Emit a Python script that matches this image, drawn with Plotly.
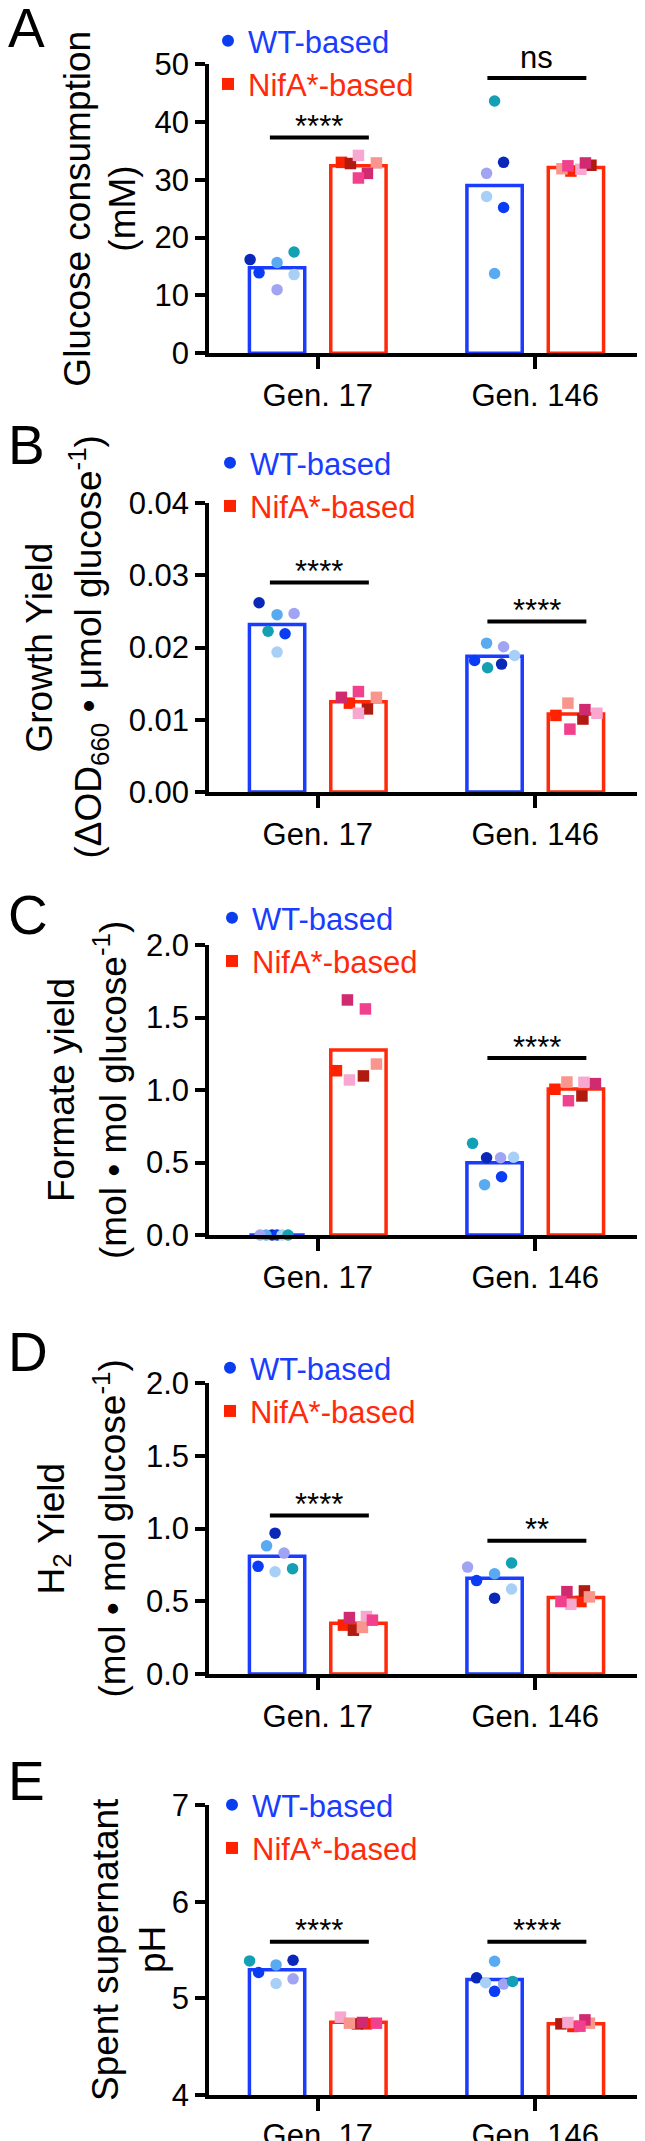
import plotly.graph_objects as go

W, H = 645, 2141

# ---------------- data ----------------
CATS = ["Gen. 17", "Gen. 146"]
SERIES = ["WT-based", "NifA*-based"]

# replicate order: WT = navy, blue, mid-blue, light-blue, lavender, teal
#                  NifA = red, dark red, light pink, salmon, magenta, hot pink
A_WT_BAR = [14.8, 29.0]
A_NIFA_BAR = [32.4, 32.1]
A_WT_G17 = [16.2, 13.9, 15.7, 13.6, 11.0, 17.5]
A_WT_G146 = [33.0, 25.2, 13.8, 27.1, 31.1, 43.6]
A_NIFA_G17 = [33.0, 32.8, 34.2, 32.9, 31.1, 30.3]
A_NIFA_G146 = [31.5, 32.5, 31.8, 31.9, 32.9, 32.4]

B_WT_BAR = [0.0232, 0.0188]
B_NIFA_BAR = [0.0125, 0.0108]
B_WT_G17 = [0.0262, 0.0219, 0.02455, 0.01936, 0.0247, 0.02225]
B_WT_G146 = [0.0177, 0.0182, 0.0206, 0.0189, 0.0201, 0.0172]
B_NIFA_G17 = [0.0123, 0.0115, 0.0109, 0.0131, 0.0131, 0.0139]
B_NIFA_G146 = [0.0106, 0.0101, 0.0109, 0.0123, 0.0114, 0.0087]

C_WT_BAR = [0.0, 0.499]
C_NIFA_BAR = [1.276, 1.007]
C_WT_G17 = [0.0, 0.0, 0.0, 0.0, 0.0, 0.0]
C_WT_G146 = [0.533, 0.402, 0.347, 0.536, 0.533, 0.632]
C_NIFA_G17 = [1.133, 1.097, 1.069, 1.179, 1.621, 1.559]
C_NIFA_G146 = [1.005, 0.959, 1.053, 1.055, 1.044, 0.926]

D_WT_BAR = [0.81, 0.658]
D_NIFA_BAR = [0.349, 0.525]
D_WT_G17 = [0.968, 0.740, 0.881, 0.703, 0.831, 0.724]
D_WT_G146 = [0.521, 0.642, 0.689, 0.584, 0.735, 0.763]
D_NIFA_G17 = [0.336, 0.301, 0.395, 0.320, 0.388, 0.370]
D_NIFA_G146 = [0.498, 0.571, 0.479, 0.530, 0.566, 0.498]

E_WT_BAR = [5.295, 5.195]
E_NIFA_BAR = [4.753, 4.736]
E_WT_G17 = [5.394, 5.267, 5.346, 5.154, 5.202, 5.387]
E_WT_G146 = [5.212, 5.072, 5.384, 5.161, 5.147, 5.175]
E_NIFA_G17 = [4.736, 4.736, 4.805, 4.743, 4.750, 4.743]
E_NIFA_G146 = [4.709, 4.736, 4.750, 4.743, 4.777, 4.712]

# significance labels: (category index, label)
A_SIG = [(0, "****"), (1, "ns")]
B_SIG = [(0, "****"), (1, "****")]
C_SIG = [(1, "****")]
D_SIG = [(0, "****"), (1, "**")]
E_SIG = [(0, "****"), (1, "****")]

# ---------------- styles / layout ----------------
WT_COLORS = ["#0b27b8", "#0a3cf5", "#5aaaf2", "#a8d0f6", "#a0a4f2", "#14a0b4"]
NIFA_COLORS = ["#ff2200", "#b01a10", "#f8a8d0", "#f8968e", "#d02a70", "#f0408e"]
BLUE = "#1a3cff"
RED = "#ff2a0a"
FONT = "Liberation Sans, Arial, Helvetica, sans-serif"

# horizontal jitter of points (pixels from bar centre)
JIT = {
    "A": ([-27, -18, 0, 17, 0, 17], [9, 9, 0, -8, -8, 0],
          [-17, -8, 0, 18, 9, 0], [-5, 15, 5, -14, 9.5, -8]),
    "B": ([-18, 8, 0, 0, 17, -9], [7, -20, -8, 20, 9, -7],
          [-9, 9, 0, 18, -17, 0], [-20, 7, 21, -8, 9, -6]),
    "C": ([-5, 0, -11, 5, -17, 11], [-8, 7, -10, 19, 6, -22],
          [-22, 5, -9, 18, -11, 7], [-21, 6, 8, -9, 19.5, -7.5]),
    "D": ([-2, -19, -10.5, -2, 7, 15.5], [0, -18, 0, 17, -27, 17],
          [-15, -5, 8, 4, -9, 14], [5, 8.5, -5, 13.5, -9, -15]),
    "E": ([16, -18.5, -1, -1, 16, -27.5], [-18, 0, 0, -9, 9, 18],
          [8, -1, -18, -9, 4, 18], [-3, -15, -8, 13.5, 9, 4]),
}

# pixel positions below are in the reference picture's frame
PANELS = [
    dict(key="A", wt_bar=A_WT_BAR, n_bar=A_NIFA_BAR,
         pts=(A_WT_G17, A_WT_G146, A_NIFA_G17, A_NIFA_G146), sig=A_SIG,
         sig_y=[37.3, 47.6], top=64, bot=353.3, rng=[0, 50],
         tickvals=[0, 10, 20, 30, 40, 50], fmt="d",
         title=["Glucose consumption", "(mM)"], tx=[78, 123],
         letter_xy=(26.5, 28), leg_xy=(228, 41)),
    dict(key="B", wt_bar=B_WT_BAR, n_bar=B_NIFA_BAR,
         pts=(B_WT_G17, B_WT_G146, B_NIFA_G17, B_NIFA_G146), sig=B_SIG,
         sig_y=[0.029, 0.0236], top=503, bot=792, rng=[0, 0.04],
         tickvals=[0, 0.01, 0.02, 0.03, 0.04], fmt=".2f",
         title=["Growth Yield",
                "(ΔOD<sub>660</sub> • μmol glucose<sup>-1</sup>)"],
         tx=[39, 88], letter_xy=(26.5, 444.5), leg_xy=(230, 463)),
    dict(key="C", wt_bar=C_WT_BAR, n_bar=C_NIFA_BAR,
         pts=(C_WT_G17, C_WT_G146, C_NIFA_G17, C_NIFA_G146), sig=C_SIG,
         sig_y=[None, 1.22], top=945, bot=1235, rng=[0, 2],
         tickvals=[0, 0.5, 1.0, 1.5, 2.0], fmt=".1f",
         title=["Formate yield", "(mol • mol glucose<sup>-1</sup>)"],
         tx=[61, 110], letter_xy=(28, 915), leg_xy=(232, 918)),
    dict(key="D", wt_bar=D_WT_BAR, n_bar=D_NIFA_BAR,
         pts=(D_WT_G17, D_WT_G146, D_NIFA_G17, D_NIFA_G146), sig=D_SIG,
         sig_y=[1.09, 0.915], top=1383, bot=1674, rng=[0, 2],
         tickvals=[0, 0.5, 1.0, 1.5, 2.0], fmt=".1f",
         title=["H<sub>2</sub> Yield", "(mol • mol glucose<sup>-1</sup>)"],
         tx=[53, 110], letter_xy=(27.5, 1352), leg_xy=(230, 1368)),
    dict(key="E", wt_bar=E_WT_BAR, n_bar=E_NIFA_BAR,
         pts=(E_WT_G17, E_WT_G146, E_NIFA_G17, E_NIFA_G146), sig=E_SIG,
         sig_y=[5.585, 5.585], top=1805, bot=2095, rng=[4, 7],
         tickvals=[4, 5, 6, 7], fmt="d",
         title=["Spent supernatant", "pH"],
         tx=[105, 152], letter_xy=(26, 1781), leg_xy=(232, 1805)),
]

OFF = 8                 # the page's default body margin shifts the figure by 8 px
X_LEFT, X_RIGHT = 209, 644
UNIT = (X_RIGHT - X_LEFT) / 2.0
SIDE = 0.187
SIG_SHIFT = {"ns": 20}
SIG_SHIFT_DEFAULT = 11


def pxx(x):
    return (x - OFF) / W


def pxy(y):
    return 1 - (y - OFF) / H


fig = go.Figure()
layout = dict(
    template="none",
    width=W, height=H, autosize=False,
    margin=dict(l=0, r=0, t=0, b=0, pad=0, autoexpand=False),
    paper_bgcolor="white", plot_bgcolor="white",
    barmode="group", bargap=0.252, bargroupgap=0.32,
    font=dict(family=FONT, size=31, color="black"),
    showlegend=True,
)
annotations = []
shapes = []

for i, p in enumerate(PANELS, start=1):
    xa = "x" if i == 1 else f"x{i}"
    ya = "y" if i == 1 else f"y{i}"
    leg = "legend" if i == 1 else f"legend{i}"

    # bars
    fig.add_trace(go.Bar(x=[0, 1], y=p["wt_bar"], xaxis=xa, yaxis=ya,
                         marker=dict(color="white", line=dict(color=BLUE, width=3.5)),
                         showlegend=False, hoverinfo="skip"))
    fig.add_trace(go.Bar(x=[0, 1], y=p["n_bar"], xaxis=xa, yaxis=ya,
                         marker=dict(color="white", line=dict(color=RED, width=3.5)),
                         showlegend=False, hoverinfo="skip"))

    # replicate points
    jit = JIT[p["key"]]
    groups = [(0, -SIDE, p["pts"][0], jit[0], WT_COLORS, "circle"),
              (1, -SIDE, p["pts"][1], jit[1], WT_COLORS, "circle"),
              (0, SIDE, p["pts"][2], jit[2], NIFA_COLORS, "square"),
              (1, SIDE, p["pts"][3], jit[3], NIFA_COLORS, "square")]
    for ci, side, vals, jj, cols, sym in groups:
        xs = [ci + side + j / UNIT for j in jj]
        fig.add_trace(go.Scatter(x=xs, y=vals, xaxis=xa, yaxis=ya, mode="markers",
                                 marker=dict(color=cols, size=11.5, symbol=sym,
                                             line=dict(width=0)),
                                 cliponaxis=False, showlegend=False, hoverinfo="skip"))

    # legend entries
    fig.add_trace(go.Scatter(x=[None], y=[None], xaxis=xa, yaxis=ya, mode="markers",
                             name=f"<span style='color:{BLUE}'>{SERIES[0]}</span>",
                             marker=dict(color="#0a3cf0", size=12, symbol="circle"),
                             legend=leg))
    fig.add_trace(go.Scatter(x=[None], y=[None], xaxis=xa, yaxis=ya, mode="markers",
                             name=f"<span style='color:{RED}'>{SERIES[1]}</span>",
                             marker=dict(color="#ff2200", size=12, symbol="square"),
                             legend=leg))
    lx, ly = p["leg_xy"]
    layout[leg] = dict(x=pxx(lx - 20), y=pxy(ly - 27), xanchor="left", yanchor="top",
                       bgcolor="rgba(0,0,0,0)", borderwidth=0,
                       font=dict(family=FONT, size=31), itemsizing="trace",
                       tracegroupgap=0)

    # axes
    is_last = (i == len(PANELS))
    layout[f"xaxis{'' if i == 1 else i}"] = dict(
        domain=[pxx(X_LEFT), pxx(X_RIGHT)], anchor=ya, range=[-0.5, 1.5],
        tickvals=[0, 1], ticktext=CATS, ticks="outside", ticklen=12, tickwidth=3.5,
        tickcolor="black", showline=True, linecolor="black", linewidth=3.5,
        showgrid=False, zeroline=False, fixedrange=True, automargin=False,
        ticklabelstandoff=-2 if is_last else 0,
        tickfont=dict(family=FONT, size=31, color="black"))
    layout[f"yaxis{'' if i == 1 else i}"] = dict(
        domain=[pxy(p["bot"]), pxy(p["top"])], anchor=xa, range=p["rng"],
        tickvals=p["tickvals"], tickformat=p["fmt"], ticks="outside", ticklen=10,
        tickwidth=3.5, tickcolor="black", showline=True, linecolor="black",
        linewidth=3.5, showgrid=False, zeroline=False, fixedrange=True,
        automargin=False,
        tickfont=dict(family=FONT, size=31, color="black"))

    # significance bars
    for (ci, lab), yv in zip(p["sig"], [v for v in p["sig_y"] if v is not None]):
        shapes.append(dict(type="line", xref=xa, yref=ya, x0=ci - 0.22, x1=ci + 0.235,
                           y0=yv, y1=yv, line=dict(color="black", width=4)))
        annotations.append(dict(x=ci + 0.008, y=yv, xref=xa, yref=ya, text=lab,
                                showarrow=False, xanchor="center", yanchor="middle",
                                yshift=SIG_SHIFT.get(lab, SIG_SHIFT_DEFAULT),
                                font=dict(family=FONT, size=31, color="black")))

    # axis titles (two rotated lines)
    ymid = (p["top"] + p["bot"]) / 2
    for txt, tx in zip(p["title"], p["tx"]):
        annotations.append(dict(x=pxx(tx), y=pxy(ymid), xref="paper", yref="paper",
                                text=txt, textangle=-90, showarrow=False,
                                xanchor="center", yanchor="middle",
                                font=dict(family=FONT, size=37, color="black")))

    # panel letter
    lxl, lyl = p["letter_xy"]
    annotations.append(dict(x=pxx(lxl), y=pxy(lyl), xref="paper", yref="paper",
                            text=p["key"], showarrow=False, xanchor="center",
                            yanchor="middle", font=dict(family=FONT, size=55, color="black")))

layout["annotations"] = annotations
layout["shapes"] = shapes
fig.update_layout(**layout)
fig.write_html("out.html")
